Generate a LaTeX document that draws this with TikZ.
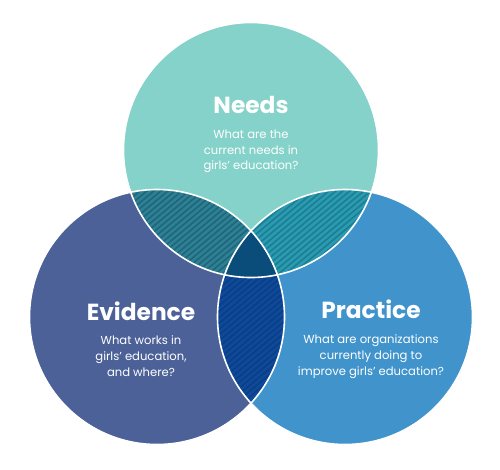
\documentclass[tikz,border=0pt]{standalone}
\usepackage{fontspec}
\setmainfont{Poppins}
\definecolor{needsc}{HTML}{84D2C9}
\definecolor{evidc}{HTML}{4B6198}
\definecolor{pracc}{HTML}{4093CB}
\definecolor{nec}{HTML}{2E8194}
\definecolor{nes}{HTML}{20667A}
\definecolor{npc}{HTML}{2A9BB0}
\definecolor{nps}{HTML}{1C7E94}
\definecolor{epc}{HTML}{0E4A99}
\definecolor{eps}{HTML}{0A3E86}
\definecolor{allc}{HTML}{0A4C7A}
\tikzset{
  ttl/.style={text=white,font=\bfseries\fontsize{23.3}{26}\selectfont,anchor=center},
  bdy/.style={text=white,font=\fontsize{11.6}{15.6}\selectfont,align=center,anchor=north},
  outl/.style={draw=white,line width=1.6pt},
  hatchline/.style={line width=1.6pt}
}
\begin{document}
\begin{tikzpicture}[x=1pt,y=-1pt]
\useasboundingbox (0,0) rectangle (500,469);
\def\NeedsPath{(251,150) circle[radius=127.5pt]}
\def\EvidPath{(157,317) circle[radius=127.5pt]}
\def\PracPath{(345,317) circle[radius=127.5pt]}
% base circles
\fill[needsc] \NeedsPath;
\fill[evidc] \EvidPath;
\fill[pracc] \PracPath;
% Needs & Evidence
\begin{scope}
\clip \NeedsPath; \clip \EvidPath;
\fill[nec] \EvidPath;
\foreach \i in {-700,-693,...,600} \draw[hatchline,nes] (\i,500) -- (\i+600,0);
\end{scope}
% Needs & Practice
\begin{scope}
\clip \NeedsPath; \clip \PracPath;
\fill[npc] \PracPath;
\foreach \i in {-700,-693,...,600} \draw[hatchline,nps] (\i,500) -- (\i+600,0);
\end{scope}
% Evidence & Practice
\begin{scope}
\clip \EvidPath; \clip \PracPath;
\fill[epc] \PracPath;
\foreach \i in {-700,-693,...,600} \draw[hatchline,eps] (\i,500) -- (\i+600,0);
\end{scope}
% all three
\begin{scope}
\clip \NeedsPath; \clip \EvidPath;
\fill[allc] \PracPath;
\end{scope}
% outlines
\draw[outl] \NeedsPath;
\draw[outl] \EvidPath;
\draw[outl] \PracPath;
% texts
\node[ttl] (needsT) at (251,105) {Needs};
\node[bdy] (needsB) at (251,126.5) {What are the\\current needs in\\girls’ education?};
\node[ttl] (evidT) at (141,311) {Evidence};
\node[bdy] (evidB) at (141,332.5) {What works in\\girls’ education,\\and where?};
\node[ttl] (pracT) at (371,309) {Practice};
\node[bdy] (pracB) at (371,331.5) {What are organizations\\currently doing to\\improve girls’ education?};
\end{tikzpicture}
\end{document}
